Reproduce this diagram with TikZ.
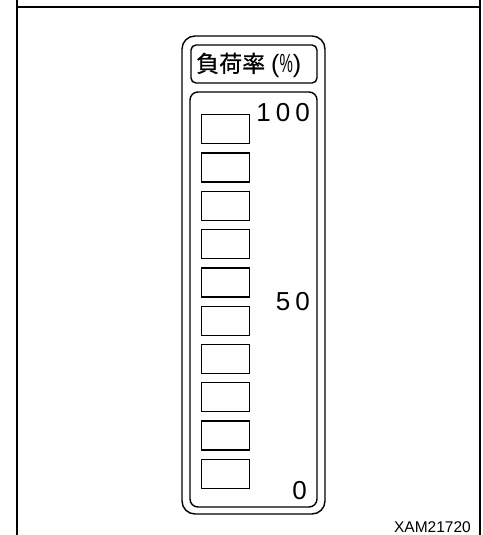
\documentclass[tikz,border=0pt]{standalone}
\usepackage{fontspec}
\setmainfont{Liberation Sans}
\newfontfamily\cjk[FakeBold=0.6]{Noto Sans CJK JP}
\newfontfamily\parenfont{Liberation Sans}
\begin{document}
\begin{tikzpicture}[x=1pt,y=-1pt,
  frameline/.style={line width=1.8pt},
  boxline/.style={line width=1.4pt},
  lamp/.style={draw,line width=1.3pt,minimum width=48pt,minimum height=29pt,inner sep=0pt},
  digit/.style={inner sep=0pt,font=\fontsize{26}{26}\selectfont}]
\useasboundingbox (0,0) rectangle (482,535);
% frame
\coordinate (fl0) at (17,0); \coordinate (fl1) at (17,535);
\coordinate (fr0) at (480,0); \coordinate (fr1) at (480,535);
\coordinate (ft0) at (17,7); \coordinate (ft1) at (480,7);
\draw[frameline] (fl0) -- (fl1);
\draw[frameline] (fr0) -- (fr1);
\draw[frameline] (ft0) -- (ft1);
% panel
\draw[boxline,rounded corners=13pt] (182,36) rectangle (325,514);
\draw[boxline,rounded corners=5pt] (191,45) rectangle (317,83);
\draw[boxline,rounded corners=8pt] (190,92) rectangle (317,507);
\node[anchor=west,inner sep=0pt] (title) at (196,65)
  {\cjk\fontsize{23}{23}\selectfont 負荷率\hspace{6pt}\parenfont\fontsize{25}{25}\selectfont(\scalebox{0.6}[1.05]{\%})};
% lamps
\foreach \i in {0,...,9} {
  \node[lamp,anchor=north west] (lamp\i) at (201,{114+38.3*\i}) {};
}
\node[digit,anchor=north east] (d100) at (310,103) {1\hspace{5pt}0\hspace{5pt}0};
\node[digit,anchor=east] (d50) at (310,301.5) {5\hspace{5pt}0};
\node[digit,anchor=south east] (d0) at (307,500) {0};
\node[anchor=south east,inner sep=0pt,font=\fontsize{15.5}{15.5}\selectfont] (code) at (471,533) {XAM21720};
\end{tikzpicture}
\end{document}
